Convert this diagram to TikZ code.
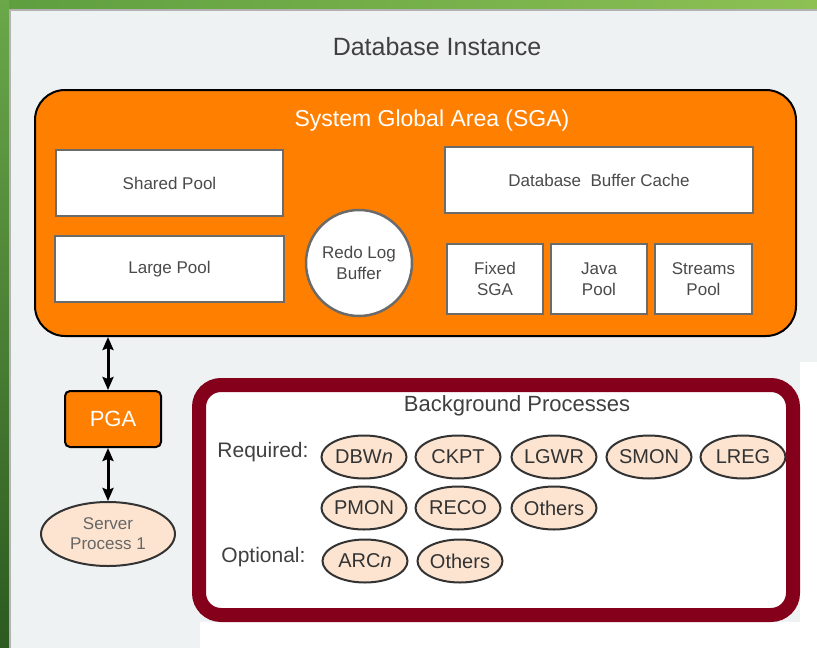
\documentclass[tikz,border=0pt]{standalone}
\usepackage{fontspec}
\setmainfont{Liberation Sans}
\usetikzlibrary{shapes.geometric,arrows.meta}

\definecolor{sgaorange}{HTML}{FF7F00}
\definecolor{bgmaroon}{HTML}{85001A}
\definecolor{procpeach}{HTML}{FCE4D0}
\definecolor{panelgray}{HTML}{EEF2F3}
\definecolor{poolgray}{HTML}{6B6B6B}
\definecolor{txtgray}{HTML}{4A4A4A}
\definecolor{greenleft}{HTML}{5E9E40}
\definecolor{greenright}{HTML}{8DC154}
\definecolor{greentop}{HTML}{6AA84A}
\definecolor{greenbottom}{HTML}{2C5A20}

\tikzset{
  pool/.style={draw=poolgray, line width=2.5pt, fill=white, text=txtgray, align=center, inner sep=0pt, font=\fontsize{17}{21}\selectfont},
  proc/.style={ellipse, draw=black!80, line width=2pt, fill=procpeach, minimum width=85pt, minimum height=43pt, inner sep=0pt, text=black!80, font=\fontsize{20}{24}\selectfont},
  link/.style={line width=3pt, arrows={Stealth[length=13pt,width=11pt,inset=2pt]-Stealth[length=13pt,width=11pt,inset=2pt]}},
}

\begin{document}
\begin{tikzpicture}[x=1pt,y=-1pt]
    \useasboundingbox (0,0) rectangle (817,648);
    % frame and panel
    \shade[left color=greenleft, right color=greenright] (0,0) rectangle (817,9);
    \shade[top color=greentop, bottom color=greenbottom] (0,0) rectangle (9,648);
    \fill[panelgray] (9,9) rectangle (817,648);
    \draw[gray!60, line width=1.5pt] (9.75,648) -- (9.75,9.75) -- (817,9.75);
    \fill[white] (800,362) rectangle (817,648);
    \fill[white] (200,622) rectangle (817,648);

    \node[text=black!75, font=\fontsize{25}{30}\selectfont] (inst) at (437,47) {Database Instance};

    % SGA
    \node[draw=black, line width=2pt, fill=sgaorange, rounded corners=30pt, minimum width=761pt, minimum height=246pt] (sga) at (415.5,213) {};
    \node[text=white, font=\fontsize{23}{28}\selectfont] (sgatitle) at (432,121) {System Global Area (SGA)};
    \node[pool, minimum width=227pt, minimum height=66pt] (shared) at (169.5,183) {Shared Pool};
    \node[pool, minimum width=229pt, minimum height=66pt] (large) at (169.5,269) {Large Pool};
    \node[pool, circle, minimum size=106pt] (redo) at (359,263) {Redo Log\\Buffer};
    \node[pool, minimum width=308pt, minimum height=66pt] (cache) at (599,180) {Database\ \ Buffer Cache};
    \node[pool, minimum width=96pt, minimum height=70pt] (fixed) at (495,279) {Fixed\\SGA};
    \node[pool, minimum width=96pt, minimum height=70pt] (java) at (599,279) {Java\\Pool};
    \node[pool, minimum width=97pt, minimum height=70pt] (streams) at (703.5,279) {Streams\\Pool};

    % PGA and server process
    \node[draw=black, line width=2pt, fill=sgaorange, rounded corners=5pt, minimum width=96pt, minimum height=56pt, text=white, font=\fontsize{22}{26}\selectfont] (pga) at (113,419) {PGA};
    \node[proc, minimum width=134pt, minimum height=64pt, align=center, text=black!60, font=\fontsize{17}{20}\selectfont] (srv) at (108,534) {Server\\Process 1};
    \draw[link] (sga.south -| srv.north) -- (pga.north -| srv.north);
    \draw[link] (pga.south -| srv.north) -- (srv.north);

    % background processes
    \node[draw=bgmaroon, line width=14pt, fill=white, rounded corners=22pt, minimum width=594pt, minimum height=230pt] (bgp) at (496,500) {};
    \node[text=black!75, font=\fontsize{22}{26}\selectfont] (bgtitle) at (517,406) {Background Processes};
    \node[anchor=east, text=black!75, font=\fontsize{21}{25}\selectfont] (req) at (312,452) {Required:};
    \node[anchor=east, text=black!75, font=\fontsize{21}{25}\selectfont] (opt) at (309,557) {Optional:};

    \node[proc] (dbw) at (364,457) {DBW\textit{n}};
    \node[proc] (ckpt) at (458,457) {CKPT};
    \node[proc] (lgwr) at (554,457) {LGWR};
    \node[proc] (smon) at (649,457) {SMON};
    \node[proc] (lreg) at (743,457) {LREG};
    \node[proc] (pmon) at (364,508) {PMON};
    \node[proc] (reco) at (458,508) {RECO};
    \node[proc] (others) at (554,508) {Others};
    \node[proc] (arc) at (365,561) {ARC\textit{n}};
    \node[proc] (optothers) at (460,561) {Others};
\end{tikzpicture}
\end{document}
